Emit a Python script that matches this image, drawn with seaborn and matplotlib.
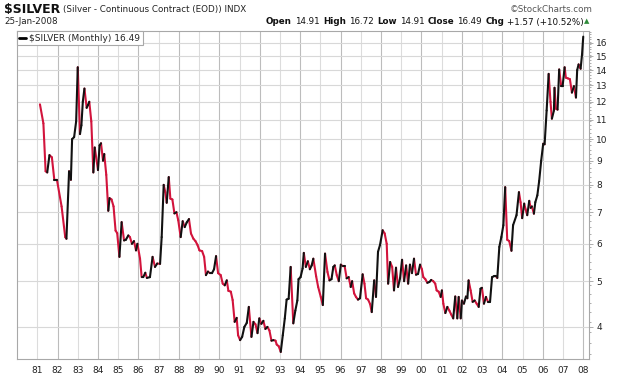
import numpy as np
import pandas as pd
import seaborn as sns
import matplotlib.pyplot as plt
from matplotlib.lines import Line2D
from matplotlib.ticker import FixedLocator, NullFormatter

# Monthly silver closes (fractional year, price)
dates = [
    1981.13, 1981.30, 1981.41, 1981.49, 1981.60, 1981.72, 1981.84, 1981.97,
    1982.20, 1982.38, 1982.44, 1982.57, 1982.66, 1982.72, 1982.82, 1982.92,
    1983.00, 1983.11, 1983.18, 1983.25, 1983.33, 1983.44, 1983.50, 1983.57,
    1983.67, 1983.77, 1983.84, 1984.00, 1984.08, 1984.15, 1984.25, 1984.31,
    1984.41, 1984.51, 1984.57, 1984.67, 1984.77, 1984.87, 1984.95, 1985.06,
    1985.17, 1985.29, 1985.38, 1985.50, 1985.58, 1985.68, 1985.78, 1985.88,
    1985.95, 1986.08, 1986.16, 1986.24, 1986.34, 1986.42, 1986.57, 1986.70,
    1986.82, 1986.93, 1987.07, 1987.15, 1987.25, 1987.33, 1987.40, 1987.50,
    1987.58, 1987.68, 1987.78, 1987.88, 1987.97, 1988.09, 1988.19, 1988.29,
    1988.39, 1988.50, 1988.60, 1988.72, 1988.82, 1988.92, 1989.02, 1989.15,
    1989.25, 1989.34, 1989.44, 1989.54, 1989.64, 1989.74, 1989.84, 1989.94,
    1990.07, 1990.17, 1990.27, 1990.37, 1990.45, 1990.57, 1990.66, 1990.76,
    1990.86, 1990.93, 1991.03, 1991.13, 1991.24, 1991.36, 1991.46, 1991.59,
    1991.69, 1991.79, 1991.89, 1991.98, 1992.08, 1992.18, 1992.28, 1992.38,
    1992.48, 1992.58, 1992.68, 1992.78, 1992.84, 1992.94, 1993.04, 1993.14,
    1993.24, 1993.33, 1993.43, 1993.53, 1993.66, 1993.76, 1993.86, 1993.92,
    1994.02, 1994.12, 1994.18, 1994.28, 1994.38, 1994.48, 1994.57, 1994.65,
    1994.79, 1994.89, 1995.02, 1995.12, 1995.23, 1995.35, 1995.45, 1995.55,
    1995.64, 1995.71, 1995.81, 1995.91, 1996.01, 1996.11, 1996.20, 1996.30,
    1996.40, 1996.50, 1996.57, 1996.67, 1996.76, 1996.86, 1996.96, 1997.09,
    1997.18, 1997.26, 1997.36, 1997.46, 1997.54, 1997.66, 1997.75, 1997.85,
    1997.95, 1998.08, 1998.18, 1998.28, 1998.35, 1998.45, 1998.55, 1998.64,
    1998.74, 1998.84, 1998.94, 1999.04, 1999.14, 1999.24, 1999.34, 1999.43,
    1999.53, 1999.63, 1999.73, 1999.83, 1999.93, 2000.02, 2000.09, 2000.19,
    2000.29, 2000.39, 2000.48, 2000.58, 2000.68, 2000.75, 2000.85, 2000.95,
    2001.01, 2001.08, 2001.18, 2001.28, 2001.38, 2001.47, 2001.57, 2001.67,
    2001.77, 2001.84, 2001.94, 2002.00, 2002.10, 2002.20, 2002.27, 2002.33,
    2002.43, 2002.53, 2002.63, 2002.73, 2002.83, 2002.92, 2002.99, 2003.09,
    2003.19, 2003.29, 2003.39, 2003.49, 2003.58, 2003.68, 2003.75, 2003.85,
    2003.95, 2004.05, 2004.14, 2004.24, 2004.34, 2004.45, 2004.53, 2004.70,
    2004.82, 2004.90, 2004.98, 2005.08, 2005.15, 2005.23, 2005.33, 2005.40,
    2005.46, 2005.56, 2005.63, 2005.73, 2005.82, 2005.92, 2006.02, 2006.09,
    2006.19, 2006.29, 2006.38, 2006.45, 2006.55, 2006.58, 2006.65, 2006.73,
    2006.81, 2006.91, 2006.98, 2007.08, 2007.14, 2007.24, 2007.34, 2007.44,
    2007.54, 2007.64, 2007.70, 2007.77, 2007.87, 2007.94, 2008.00,
]
prices = [
    11.85, 10.80, 8.55, 8.50, 9.25, 9.15, 8.20, 8.20,
    7.20, 6.20, 6.15, 8.55, 8.20, 10.00, 10.10, 10.90,
    14.20, 10.25, 10.70, 12.00, 12.80, 11.65, 11.80, 12.00,
    10.90, 8.50, 9.60, 8.60, 9.70, 9.80, 9.00, 9.30,
    8.40, 7.05, 7.50, 7.45, 7.20, 6.40, 6.32, 5.63,
    6.67, 6.10, 6.12, 6.25, 6.20, 6.00, 6.08, 5.81,
    6.00, 5.58, 5.10, 5.10, 5.21, 5.08, 5.10, 5.63,
    5.36, 5.45, 5.44, 6.20, 8.00, 7.72, 7.33, 8.31,
    7.48, 7.45, 6.96, 7.00, 6.73, 6.20, 6.70, 6.51,
    6.66, 6.77, 6.31, 6.15, 6.08, 5.97, 5.81, 5.79,
    5.63, 5.15, 5.24, 5.20, 5.20, 5.30, 5.65, 5.20,
    5.15, 4.94, 4.90, 5.02, 4.77, 4.75, 4.56, 4.10,
    4.18, 3.84, 3.75, 3.81, 4.00, 4.08, 4.41, 3.81,
    4.10, 4.05, 3.88, 4.17, 4.06, 4.12, 3.96, 4.00,
    3.93, 3.74, 3.75, 3.74, 3.67, 3.64, 3.54, 3.84,
    4.17, 4.57, 4.59, 5.36, 4.07, 4.33, 4.55, 5.05,
    5.10, 5.32, 5.74, 5.36, 5.51, 5.30, 5.40, 5.58,
    5.12, 4.86, 4.63, 4.45, 5.72, 5.23, 5.02, 5.05,
    5.36, 5.40, 5.15, 5.00, 5.42, 5.38, 5.38, 5.07,
    5.10, 4.86, 5.00, 4.71, 4.63, 4.57, 4.60, 5.17,
    4.94, 4.60, 4.57, 4.47, 4.30, 5.02, 4.63, 5.77,
    5.97, 6.41, 6.31, 6.00, 4.94, 5.49, 5.36, 4.78,
    5.34, 4.86, 5.07, 5.55, 5.00, 5.40, 4.94, 5.42,
    5.20, 5.58, 5.16, 5.18, 5.42, 5.30, 5.10, 5.05,
    4.96, 4.98, 5.03, 5.00, 4.94, 4.78, 4.75, 4.63,
    4.78, 4.48, 4.28, 4.41, 4.33, 4.25, 4.17, 4.64,
    4.17, 4.63, 4.17, 4.55, 4.48, 4.64, 4.60, 5.02,
    4.78, 4.52, 4.55, 4.48, 4.41, 4.82, 4.84, 4.48,
    4.63, 4.52, 4.52, 5.10, 5.12, 5.12, 5.08, 5.91,
    6.20, 6.57, 7.91, 6.12, 6.08, 5.80, 6.57, 6.90,
    7.72, 7.35, 6.80, 7.30, 7.10, 6.90, 7.40, 7.15,
    7.20, 6.95, 7.35, 7.60, 8.15, 9.00, 9.78, 9.75,
    11.50, 13.75, 12.00, 11.05, 11.50, 12.85, 11.60, 11.55,
    14.05, 12.95, 12.95, 14.20, 13.50, 13.45, 13.40, 12.55,
    12.95, 12.25, 14.00, 14.40, 14.10, 15.10, 16.49,
]

years = list(range(1981, 2009))
price_ticks = [4, 5, 6, 7, 8, 9, 10, 11, 12, 13, 14, 15, 16]

UP = '#111111'
DOWN = '#d2143c'

sns.set_theme(style='white')
plt.rcParams['font.family'] = ['DejaVu Sans']

# one two-point segment per month, coloured by direction
rows = []
for i in range(len(dates) - 1):
    d = 'up' if prices[i + 1] >= prices[i] else 'down'
    rows.append((i, dates[i], prices[i], d))
    rows.append((i, dates[i + 1], prices[i + 1], d))
seg = pd.DataFrame(rows, columns=['seg', 'date', 'price', 'dir'])

W, H = 620, 376
fig = plt.figure(figsize=(W / 100, H / 100), dpi=100)
left, right, top, bottom = 16.7, 589.3, 31, 359
ax = fig.add_axes([left / W, 1 - bottom / H, (right - left) / W, (bottom - top) / H])

sns.lineplot(data=seg, x='date', y='price', hue='dir', units='seg', estimator=None,
             palette={'up': UP, 'down': DOWN}, legend=False, sort=False,
             lw=1.5, solid_capstyle='round', ax=ax, zorder=3)

ax.set_yscale('log')
ax.set_xlim(1979.98, 2008.30)
ax.set_ylim(3.42, 16.95)
ax.set_xlabel('')
ax.set_ylabel('')

# x axis: every year labelled, even years get darker grid
even = [y for y in years if y % 2 == 0]
odd = [y for y in years if y % 2 == 1]
ax.set_xticks(even)
ax.set_xticklabels([f'{y % 100:02d}' for y in even])
ax.set_xticks(odd, minor=True)
ax.set_xticklabels([f'{y % 100:02d}' for y in odd], minor=True)
ax.grid(which='major', axis='x', color='#bcbcbc', lw=0.8)
ax.grid(which='minor', axis='x', color='#dcdcdc', lw=0.8)

# y axis on the right, log scale
ax.yaxis.tick_right()
ax.yaxis.set_major_locator(FixedLocator(price_ticks))
ax.yaxis.set_major_formatter(plt.FixedFormatter([str(p) for p in price_ticks]))
ax.yaxis.set_minor_locator(FixedLocator(np.arange(3.5, 17.0, 0.2)))
ax.yaxis.set_minor_formatter(NullFormatter())
ax.grid(which='major', axis='y', color='#d8d8d8', lw=0.8)

ax.tick_params(axis='both', which='both', labelsize=6.5, colors='#a0a0a0',
               labelcolor='#222222', width=0.6)
ax.tick_params(axis='x', which='both', length=3, pad=2)
ax.tick_params(axis='y', which='major', length=3, pad=2)
ax.tick_params(axis='y', which='minor', length=1.5)
for s in ax.spines.values():
    s.set_color('#a8a8a8')
    s.set_linewidth(0.8)
    s.set_visible(True)

handle = Line2D([0], [0], color='black', lw=2)
leg = ax.legend([handle], [rf'\$SILVER (Monthly) {prices[-1]:.2f}'], loc='upper left',
                bbox_to_anchor=(0, 1), borderaxespad=0, fancybox=False, framealpha=1,
                edgecolor='#a8a8a8', fontsize=6.5, handlelength=0.7, handletextpad=0.4,
                borderpad=0.3)
leg.get_frame().set_linewidth(0.8)
leg.set_zorder(5)

# header
fig.canvas.draw()
rend = fig.canvas.get_renderer()
title = fig.text(4 / W, 1 - 9 / H, r'\$SILVER', fontsize=9, fontweight='bold',
                 va='center', color='#111111')
tw = title.get_window_extent(rend).width
fig.text((4 + tw + 3) / W, 1 - 9.5 / H, '(Silver - Continuous Contract (EOD)) INDX',
         fontsize=6.3, va='center', color='#222222')
fig.text(593 / W, 1 - 9 / H, '\u00a9StockCharts.com', fontsize=6.3, va='center',
         ha='right', color='#555555')
fig.text(4 / W, 1 - 22 / H, '25-Jan-2008', fontsize=6.3, va='center', color='#222222')

pieces = [('Open', 'bold'), ('14.91', 'normal'), ('High', 'bold'), ('16.72', 'normal'),
          ('Low', 'bold'), ('14.91', 'normal'), ('Close', 'bold'), ('16.49', 'normal'),
          ('Chg', 'bold'), ('+1.57 (+10.52%)', 'normal')]
x = 584.0
fig.text(x / W, 1 - 21.5 / H, '\u25b2', fontsize=5, va='center', ha='left', color='#2e8b3a')
for txt, wt in reversed(pieces):
    t = fig.text(x / W, 1 - 22 / H, txt, fontsize=6.3, fontweight=wt, va='center',
                 ha='right', color='#111111')
    w = t.get_window_extent(rend).width
    x -= w + 3.2

fig.savefig('out.png', dpi=100)
